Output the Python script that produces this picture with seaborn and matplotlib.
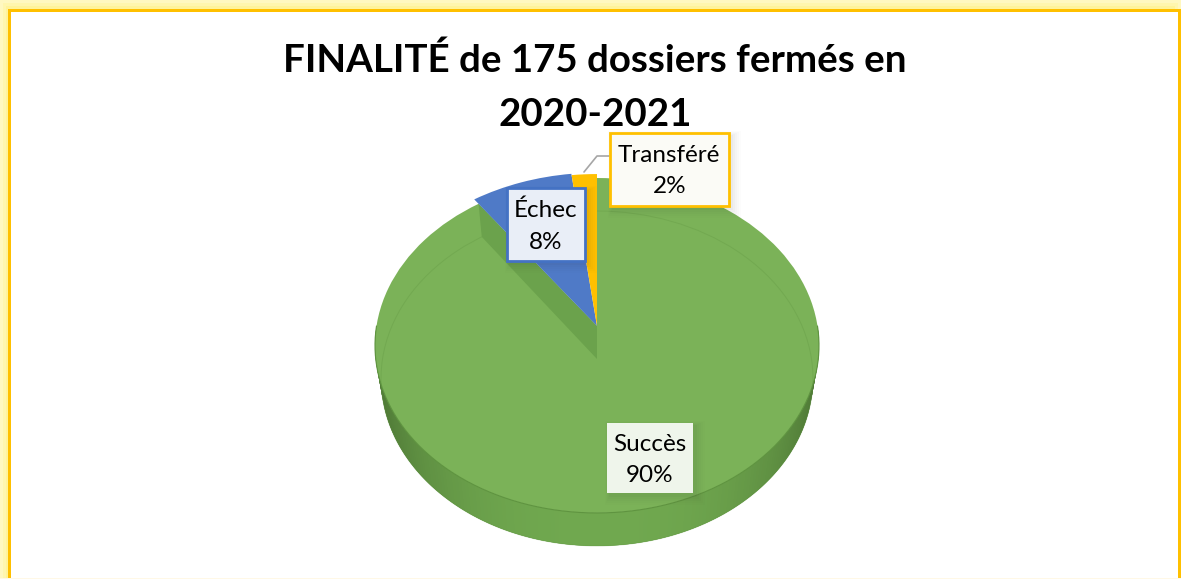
import matplotlib
matplotlib.use('Agg')
import matplotlib.pyplot as plt
import seaborn as sns
import numpy as np
from matplotlib.patches import Rectangle, Circle
from matplotlib.transforms import Transform

categories = ['Succès', 'Échec', 'Transféré']
values = [90, 8, 2]
colors = ['#7BB258', '#4F7AC7', '#FFC000']
title = 'FINALITÉ de 175 dossiers fermés en\n2020-2021'


# tilted disc: unit circle -> pixels, with some perspective
class Tilt(Transform):
    input_dims = 2
    output_dims = 2

    def __init__(self, cy=326, a=220.5, b=165.2, k=0.1164):
        super().__init__()
        self.cy, self.a, self.b, self.k = cy, a, b, k

    def transform_non_affine(self, values):
        xy = np.asarray(values, dtype=float)
        d = 1 + self.k * xy[:, 1]
        return np.c_[597 + self.a * xy[:, 0] / d, self.cy - self.b * xy[:, 1] / d]


def rim(t, theta, r=1.0):
    th = np.deg2rad(theta)
    return t.transform(np.c_[r * np.cos(th), r * np.sin(th)])


sns.set_theme(style='white')
plt.rcParams['font.family'] = ['Lato', 'DejaVu Sans']

fig = plt.figure(figsize=(11.81, 5.79), dpi=100, facecolor='#FFF8C0')
ax = fig.add_axes([0, 0, 1, 1])
wedges, _ = ax.pie(values, colors=colors, startangle=90, counterclock=False,
                   wedgeprops={'linewidth': 0})
ax.set_aspect('auto')
ax.set_xlim(0, 1181)
ax.set_ylim(579, 0)
ax.set_axis_off()

# frame: soft yellow glow, white plate, gold line on three sides
for inset, c in [(3, '#FFF6AE'), (6, '#FFF39A')]:
    ax.add_patch(Rectangle((inset, inset), 1181 - 2 * inset, 579, fc=c, ec='none', zorder=0.1))
ax.add_patch(Rectangle((8, 9), 1181, 579, fc='#FFC000', ec='none', zorder=0.2))
ax.add_patch(Rectangle((11, 11.5), 1167, 566.5, fc='white', ec='none', zorder=0.3))
ax.add_patch(Rectangle((0, 578), 1181, 1, fc='#FFF8E6', ec='none', zorder=0.4))

top = Tilt()
low = Tilt(cy=359, a=214.5)

# side of the disc, each strip overlaps the next so no seams show
angles = np.linspace(-180, 0, 181)
p_top = rim(top, angles)
p_low = rim(low, angles)
mid = np.array(matplotlib.colors.to_rgb('#70A84F'))
edge = np.array(matplotlib.colors.to_rgb('#4C7534'))
for i in range(len(angles) - 1):
    j = min(i + 3, len(angles) - 1)
    s = abs(np.cos(np.deg2rad(angles[i]))) ** 2.5
    c = mid * (1 - s) + edge * s
    ax.fill([p_top[i, 0], p_top[j, 0], p_low[j, 0], p_low[i, 0]],
            [p_top[i, 1], p_top[j, 1], p_low[j, 1], p_low[i, 1]],
            color=c, lw=0, zorder=1)

# slices of the pie
for w, r, z in zip(wedges, [1.0, 1.04, 1.03], [2, 4, 4.1]):
    w.set_radius(r)
    w.set_transform(top + ax.transData)
    w.set_zorder(z)

ax.plot(p_top[:, 0], p_top[:, 1], color='#5F9440', lw=0.8, zorder=2.1)

# faint outline of the bottom, seen through the top
ax.add_patch(Circle((0, 0), 1, fc='none', ec='#5F9440', lw=0.7, alpha=0.3,
                    transform=low + ax.transData, zorder=2.2))

# cut wall of the big slice
cut = wedges[0].theta1
a0 = top.transform(np.array([[0.0, 0.0]]))[0]
a1 = low.transform(np.array([[0.0, 0.0]]))[0]
p0 = rim(top, [cut])[0]
p1 = rim(low, [cut])[0]
ax.fill([a0[0], p0[0], p1[0], a1[0]], [a0[1], p0[1], p1[1], a1[1]],
        color='#6BA24C', lw=0, zorder=3)

# leader line
ax.plot([584, 597, 609], [172, 156, 156], color='#A6A6A6', lw=1.2, zorder=5)


def label_box(x0, y0, x1, y1, face, line, text):
    for grow, alpha in [(14, 0.012), (11, 0.015), (8, 0.02), (5, 0.025), (2, 0.03)]:
        ax.add_patch(Rectangle((x0 + 3 - grow / 3, y0 + 3 - grow / 3), x1 - x0 + grow, y1 - y0 + grow,
                               fc='#333333', ec='none', alpha=alpha, zorder=6))
    ax.add_patch(Rectangle((x0, y0), x1 - x0, y1 - y0, fc=face,
                           ec=line if line else 'none', lw=2, zorder=7))
    ax.text((x0 + x1) / 2, (y0 + y1) / 2 + 2, text, ha='center', va='center',
            fontsize=17.5, color='black', linespacing=1.62, zorder=8)


boxes = [(607, 423, 693, 493, '#EFF5EB', None),
         (507, 188, 585, 261, '#E9EEF7', '#4472C4'),
         (609.5, 132.5, 729, 205.5, '#FBFBF6', '#FFC000')]
for (x0, y0, x1, y1, face, line), cat, val in zip(boxes, categories, values):
    label_box(x0, y0, x1, y1, face, line, f'{cat}\n{val}%')

ax.text(595, 87, title, ha='center', va='center', fontsize=27.7, fontweight='bold',
        color='black', linespacing=1.72, zorder=9)

fig.savefig('out.png', dpi=100, facecolor=fig.get_facecolor())
